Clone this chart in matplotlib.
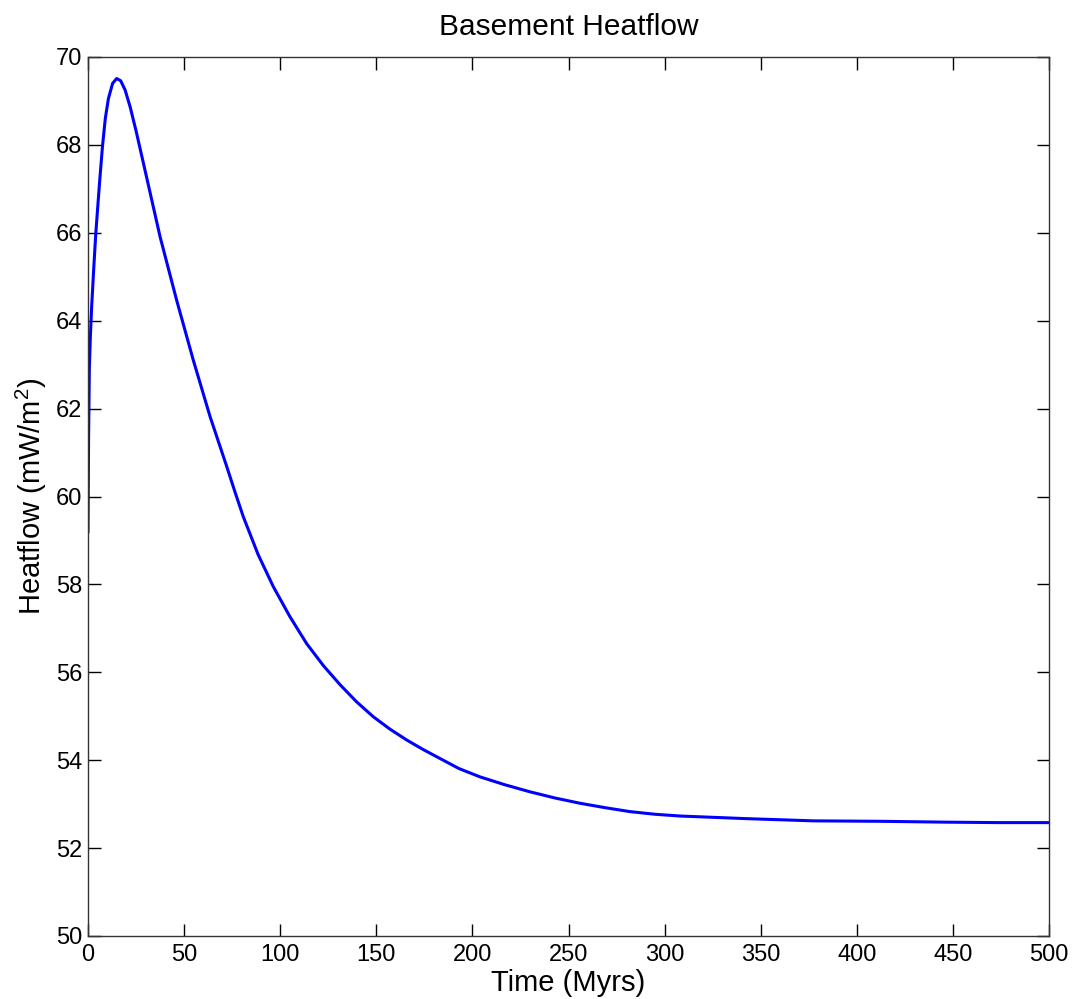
import matplotlib
matplotlib.use('Agg')
import matplotlib.pyplot as plt

plt.rcParams['font.family'] = ['Liberation Sans', 'DejaVu Sans']
plt.rcParams['mathtext.fontset'] = 'custom'
plt.rcParams['mathtext.rm'] = 'Liberation Sans'
plt.rcParams['mathtext.it'] = 'Liberation Sans:italic'

# Basement heatflow (time in Myrs, heatflow in mW/m^2)
time_myrs = [0, 0.3, 0.7, 1.2, 1.9, 3.0, 4.0, 5.0, 6.2, 7.5, 9.0, 10.6,
             12.8, 14.9, 17.0, 19.3, 21.9, 25.0, 28.8, 33.0, 37.5, 46.1,
             54.8, 63.5, 72.2, 76.5, 80.8, 88.5, 96.4, 105, 113.8, 122.5,
             131.1, 139.7, 148.4, 157, 165.8, 174.5, 183.1, 193, 204, 217,
             230, 243, 256, 269, 282, 295, 308, 342.7, 377.4, 412, 446.8,
             474, 500]
heatflow = [59.2, 61.3, 62.9, 63.6, 64.32, 65.2, 65.95, 66.55, 67.25, 67.95,
            68.6, 69.05, 69.40, 69.51, 69.46, 69.25, 68.87, 68.32, 67.59,
            66.78, 65.91, 64.47, 63.1, 61.82, 60.68, 60.1, 59.54, 58.68,
            57.95, 57.27, 56.65, 56.15, 55.72, 55.33, 54.99, 54.71, 54.46,
            54.24, 54.04, 53.81, 53.62, 53.44, 53.28, 53.14, 53.02, 52.92,
            52.83, 52.77, 52.73, 52.67, 52.62, 52.61, 52.59, 52.58, 52.58]

x_ticks = list(range(0, 501, 50))
y_ticks = list(range(50, 71, 2))

fig = plt.figure(figsize=(10.73, 9.99), dpi=100)
ax = fig.add_axes([88 / 1073, 63 / 999, (1049 - 88) / 1073, (936 - 57) / 999])

ax.plot(time_myrs, heatflow, color='#0000ff', linewidth=2.2)

ax.set_xlim(0, 500)
ax.set_ylim(50, 70)
ax.set_xticks(x_ticks)
ax.set_yticks(y_ticks)
ax.tick_params(direction='in', length=9, width=1, top=True, right=True,
               labelsize=17, colors='#000000', pad=4)
ax.tick_params(axis='x', pad=6)
for s in ax.spines.values():
    s.set_color('#333333')
    s.set_linewidth(1)

ax.set_title('Basement Heatflow', fontsize=21.5, pad=16)
ax.set_xlabel('Time (Myrs)', fontsize=21, labelpad=2)
ax.set_ylabel('Heatflow (mW/m$^2$)', fontsize=21, labelpad=5)

fig.savefig('out.png', dpi=100)
